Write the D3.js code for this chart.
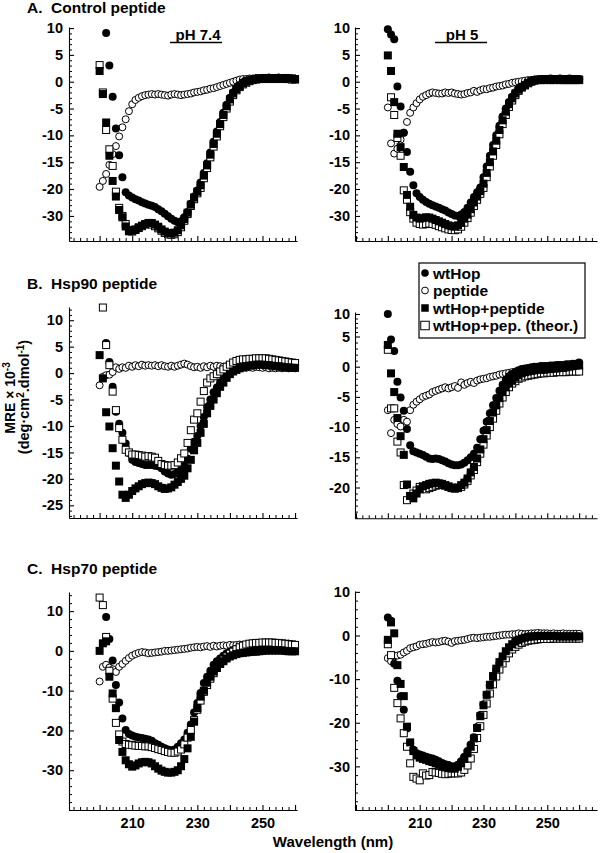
<!DOCTYPE html>
<html><head><meta charset="utf-8">
<script src="https://cdn.jsdelivr.net/npm/d3@7"></script>
<style>
body{margin:0;background:#fff;}
svg text{font-family:"Liberation Sans",Arial,Helvetica,sans-serif;font-weight:bold;fill:#000;white-space:pre;}
</style></head><body>
<svg id="chart" width="602" height="853"></svg>
<script>
// ---------- categories / labels ----------
const wavelengthNm = [200,201,202,203,204,205,206,207,208,209,210,211,212,213,214,215,216,217,218,219,
  220,221,222,223,224,225,226,227,228,229,230,231,232,233,234,235,236,237,238,239,
  240,241,242,243,244,245,246,247,248,249,250,251,252,253,254,255,256,257,258,259,260];
const seriesLabels = ["wtHop","peptide","wtHop+peptide","wtHop+pep. (theor.)"];
const panelTitles = ["A.  Control peptide","B.  Hsp90 peptide","C.  Hsp70 peptide"];
const phLabels = ["pH 7.4","pH 5"];
const xTickLabels = [210,230,250];
const yTicksA = [10,5,0,-5,-10,-15,-20,-30];
const yTicksBLeft = [10,5,0,-5,-10,-15,-20,-25];
const yTicksBRight = [10,5,0,-5,-10,-15,-20];
const yTicksC = [10,0,-10,-20,-30];
const xAxisTitle = "Wavelength (nm)";

// ---------- A. Control peptide, pH 7.4 ----------
const ctrl74_wtHop = [null,null,9.1,3.0,-2.8,-8.7,-13.7,-17.8,-21.2,-22.4,
 -23.2,-23.8,-24.3,-24.9,-25.4,-25.8,-26.2,-26.7,-27.5,-28.3,
 -29.2,-30.1,-31.0,-31.8,-32.3,-32.0,-30.5,-28.5,-25.5,-22.8,
 -20.6,-18.8,-17.0,-15.2,-13.2,-11.2,-9.3,-7.5,-5.8,-4.3,
 -3.0,-2.0,-1.2,-0.6,-0.1,0.2,0.3,0.4,0.5,0.5,
 0.6,0.6,0.6,0.7,0.6,0.6,0.7,0.6,0.5,0.6,0.5];
const ctrl74_peptide = [-19.6,-18.5,-17.2,-15.5,-13.5,-12.0,-10.2,-8.5,-7.0,-5.5,
 -4.2,-3.4,-3.0,-2.7,-2.5,-2.4,-2.3,-2.4,-2.3,-2.4,
 -2.5,-2.6,-2.4,-2.3,-2.4,-2.5,-2.4,-2.3,-2.2,-2.0,
 -1.9,-1.8,-1.6,-1.5,-1.3,-1.2,-1.0,-0.8,-0.6,-0.4,
 -0.2,0.0,0.2,0.4,0.5,0.5,0.6,0.6,0.7,0.7,
 0.7,0.7,0.8,0.7,0.7,0.8,0.7,0.7,0.7,0.6,0.6];
const ctrl74_mix = [2.0,-2.3,-7.6,-13.8,-18.5,-22.8,-27.8,-30.5,-33.9,-35.7,
 -35.5,-35.0,-34.2,-33.6,-33.0,-32.6,-32.6,-33.2,-34.0,-35.0,
 -35.8,-36.3,-36.5,-36.2,-35.3,-33.5,-31.2,-28.8,-25.8,-23.2,
 -21.0,-19.3,-17.5,-15.6,-13.6,-11.6,-9.7,-7.9,-6.2,-4.6,
 -3.3,-2.2,-1.4,-0.8,-0.3,0.0,0.2,0.4,0.5,0.6,
 0.6,0.7,0.6,0.6,0.7,0.6,0.6,0.7,0.6,0.6,0.5];
const ctrl74_theor = [3.1,-2.0,-9.0,-12.6,-15.7,-21.0,-27.0,-30.0,-33.0,-35.2,
 -35.8,-35.2,-34.5,-33.8,-33.2,-33.0,-33.2,-33.8,-34.6,-35.5,
 -36.3,-36.8,-37.0,-36.8,-36.0,-34.2,-31.8,-29.3,-26.3,-23.8,
 -21.6,-19.8,-18.0,-16.1,-14.1,-12.1,-10.2,-8.3,-6.6,-5.0,
 -3.7,-2.5,-1.6,-1.0,-0.5,-0.2,0.1,0.3,0.4,0.5,
 0.5,0.5,0.6,0.5,0.5,0.6,0.5,0.5,0.5,0.4,0.4];

// ---------- A. Control peptide, pH 5 ----------
const ctrl5_wtHop = [9.8,8.8,7.9,-0.9,-4.6,-9.5,-13.1,-16.8,-19.3,-21.6,
 -23.0,-24.0,-24.8,-25.5,-26.0,-26.5,-27.0,-27.5,-28.0,-28.7,
 -29.3,-29.8,-30.0,-29.5,-28.5,-27.0,-25.0,-23.0,-21.2,-19.7,
 -17.8,-15.8,-13.8,-11.8,-10.0,-8.2,-6.5,-5.0,-3.8,-2.8,
 -2.0,-1.4,-0.9,-0.5,-0.2,0.0,0.2,0.4,0.5,0.5,
 0.5,0.6,0.5,0.5,0.6,0.5,0.5,0.6,0.5,0.5,0.5];
const ctrl5_peptide = [-4.8,-11.5,-13.4,-12.5,-10.8,-9.5,-7.5,-5.8,-4.8,-4.0,
 -3.3,-2.8,-2.5,-2.2,-2.0,-2.1,-2.2,-2.2,-2.0,-2.1,
 -2.0,-2.2,-2.3,-2.4,-2.3,-2.1,-2.0,-1.7,-1.9,-1.6,
 -1.4,-1.4,-1.2,-1.1,-0.9,-0.8,-0.7,-0.5,-0.4,-0.2,
 -0.1,0.0,0.1,0.2,0.3,0.3,0.4,0.4,0.4,0.5,
 0.5,0.4,0.5,0.5,0.4,0.5,0.5,0.4,0.4,0.5,0.4];
const ctrl5_mix = [4.9,2.0,-3.8,-9.7,-12.2,-15.9,-22.2,-26.6,-29.6,-30.6,
 -31.0,-30.8,-30.5,-30.6,-31.0,-31.5,-32.0,-32.5,-33.0,-33.5,
 -33.8,-34.0,-33.5,-32.5,-31.0,-29.5,-27.5,-25.0,-22.8,-20.8,
 -19.0,-17.0,-15.0,-13.0,-11.0,-9.0,-7.2,-5.6,-4.2,-3.1,
 -2.2,-1.5,-1.0,-0.6,-0.2,0.1,0.3,0.4,0.4,0.5,
 0.5,0.4,0.5,0.5,0.4,0.5,0.4,0.4,0.5,0.4,0.4];
const ctrl5_theor = [null,-2.9,-6.2,-10.5,-13.8,-20.5,-24.0,-28.6,-31.0,-32.5,
 -33.0,-33.2,-33.0,-32.8,-33.0,-33.3,-33.8,-34.2,-34.6,-35.0,
 -35.2,-35.3,-35.0,-34.0,-32.5,-30.8,-28.8,-26.3,-24.0,-21.8,
 -19.8,-17.8,-15.8,-13.8,-11.8,-9.8,-7.9,-6.2,-4.7,-3.5,
 -2.5,-1.7,-1.1,-0.7,-0.3,0.0,0.2,0.3,0.3,0.3,
 0.4,0.3,0.3,0.4,0.3,0.3,0.3,0.3,0.3,0.3,0.3];

// ---------- B. Hsp90 peptide, pH 7.4 ----------
const hsp90_74_wtHop = [null,null,5.7,2.1,-2.6,-7.3,-9.6,-11.3,-13.3,-15.1,
 -16.4,-16.8,-17.0,-17.2,-17.4,-17.4,-17.4,-17.5,-17.6,-18.0,
 -18.6,-19.0,-19.2,-19.1,-18.7,-18.3,-17.5,-16.2,-14.3,-13.0,
 -11.9,-10.0,-8.3,-6.4,-5.0,-3.6,-2.7,-1.8,-1.1,-0.5,
 0.0,0.4,0.8,1.1,1.3,1.5,1.6,1.7,1.8,1.9,
 1.9,1.9,1.8,1.7,1.6,1.5,1.4,1.3,1.2,1.1,1.0];
const hsp90_74_peptide = [-2.3,-0.7,-0.4,-0.3,0.2,1.1,0.8,1.1,1.0,1.4,
 1.2,1.5,1.3,1.6,1.4,1.5,1.4,1.5,1.3,1.5,
 1.3,1.2,1.4,1.2,1.4,1.6,1.8,1.6,1.3,1.1,
 1.2,1.0,1.3,1.1,1.4,1.2,1.4,1.3,1.2,1.3,
 1.4,1.2,1.3,1.1,1.2,1.0,1.1,1.0,1.2,1.1,
 1.0,1.1,0.9,1.0,0.9,1.0,0.9,1.0,0.9,1.0,0.9];
const hsp90_74_mix = [3.4,-1.0,-7.4,-10.1,-14.2,-17.5,-20.5,-23.0,-23.6,-23.0,
 -22.3,-21.8,-21.4,-21.0,-20.8,-20.7,-20.8,-21.0,-21.4,-21.7,
 -21.9,-21.8,-21.6,-21.1,-20.6,-20.0,-19.4,-18.0,-16.4,-14.6,
 -13.2,-11.3,-9.6,-7.6,-6.2,-5.0,-3.8,-2.6,-1.8,-0.9,
 -0.2,0.3,0.6,0.9,1.1,1.3,1.4,1.5,1.6,1.6,
 1.6,1.5,1.5,1.4,1.3,1.3,1.2,1.1,1.1,1.0,1.0];
const hsp90_74_theor = [null,12.4,5.3,1.5,-3.5,-7.0,-10.4,-12.6,-14.5,-15.0,
 -15.4,-15.4,-15.5,-15.6,-15.8,-15.7,-15.8,-16.0,-16.6,-17.2,
 -17.4,-17.5,-17.5,-17.4,-16.9,-16.1,-15.2,-13.2,-10.8,-8.8,
 -7.6,-5.4,-3.4,-1.8,-1.0,-0.6,-0.2,0.3,0.7,1.2,
 1.6,2.0,2.3,2.5,2.6,2.6,2.7,2.7,2.8,2.8,
 2.8,2.8,2.7,2.6,2.5,2.4,2.3,2.2,2.1,2.0,1.9];

// ---------- B. Hsp90 peptide, pH 5 ----------
const hsp90_5_wtHop = [10.0,4.5,2.6,-2.5,-5.1,-7.3,-10.3,-13.0,-14.0,-14.2,
 -14.4,-14.6,-14.9,-15.2,-15.3,-15.2,-15.3,-15.5,-15.7,-16.0,
 -16.2,-16.3,-16.3,-16.2,-15.9,-15.5,-15.0,-14.4,-13.4,-12.0,
 -10.6,-9.1,-7.7,-6.4,-5.2,-4.0,-3.0,-2.1,-1.6,-1.2,
 -0.9,-0.6,-0.4,-0.3,-0.2,-0.1,0.0,0.0,0.1,0.1,
 0.1,0.2,0.2,0.3,0.3,0.3,0.4,0.4,0.5,0.5,0.7];
const hsp90_5_peptide = [-7.2,-11.0,-8.8,-9.5,-9.9,-8.8,-9.1,-7.2,-6.3,-5.8,
 -5.4,-5.0,-4.8,-4.6,-4.2,-4.0,-3.8,-3.6,-3.4,-3.6,
 -3.4,-3.2,-3.5,-2.6,-3.0,-2.7,-2.5,-2.7,-2.3,-2.1,
 -2.0,-1.9,-1.7,-1.6,-1.5,-1.3,-1.2,-1.1,-1.0,-0.9,
 -0.8,-0.7,-0.7,-0.6,-0.6,-0.5,-0.5,-0.5,-0.5,-0.4,
 -0.4,-0.4,-0.4,-0.3,-0.3,-0.3,-0.3,-0.3,-0.2,-0.2,-0.2];
const hsp90_5_mix = [3.6,-1.1,-4.2,-8.5,-11.5,-14.6,-19.5,-21.4,-21.8,-21.0,
 -20.3,-19.8,-19.6,-19.4,-19.3,-19.2,-19.3,-19.4,-19.6,-19.8,
 -20.0,-20.1,-20.0,-19.6,-19.2,-18.5,-17.5,-16.6,-15.2,-13.7,
 -12.0,-10.5,-9.0,-7.6,-6.4,-5.2,-4.2,-3.4,-2.7,-2.2,
 -1.8,-1.4,-1.1,-0.9,-0.8,-0.7,-0.6,-0.5,-0.5,-0.5,
 -0.4,-0.4,-0.3,-0.3,-0.2,-0.2,-0.1,0.0,0.1,0.2,0.2];
const hsp90_5_theor = [2.8,-6.9,-6.9,-12.4,-14.2,-19.6,-22.1,-21.4,-21.0,-20.5,
 -19.9,-20.0,-20.3,-20.1,-19.9,-19.7,-19.6,-19.6,-19.7,-19.9,
 -20.1,-20.2,-20.1,-19.9,-19.5,-18.9,-18.0,-17.1,-15.8,-14.4,
 -12.9,-11.4,-10.0,-8.6,-7.3,-6.1,-5.1,-4.2,-3.4,-2.8,
 -2.4,-2.0,-1.8,-1.6,-1.5,-1.4,-1.3,-1.2,-1.1,-1.1,
 -1.0,-1.0,-1.0,-0.9,-0.9,-0.9,-0.9,-0.8,-0.8,-0.8,-0.8];

// ---------- C. Hsp70 peptide, pH 7.4 ----------
const hsp70_74_wtHop = [null,null,8.5,3.0,-2.4,-8.6,-13.0,-17.0,-19.9,-20.9,
 -21.3,-21.6,-21.8,-21.9,-22.1,-22.3,-22.6,-23.2,-23.6,-24.1,
 -24.5,-24.8,-25.0,-24.8,-24.1,-23.2,-22.3,-20.6,-18.5,-15.5,
 -13.1,-10.6,-8.1,-6.5,-5.0,-3.5,-2.6,-1.9,-1.2,-0.6,
 -0.2,0.2,0.5,0.8,1.0,1.1,1.2,1.3,1.4,1.5,
 1.5,1.5,1.4,1.3,1.2,1.1,0.9,0.6,0.3,0.1,-0.1];
const hsp70_74_peptide = [-7.7,-4.0,-3.5,-4.2,-4.6,-5.3,-4.0,-3.3,-2.5,-1.8,
 -1.2,-0.8,-0.5,-0.3,-0.4,-0.6,-0.5,-0.4,-0.3,-0.2,
 0.0,0.0,0.1,0.2,0.3,0.4,0.5,0.6,0.8,0.9,
 1.0,0.9,1.1,1.2,1.0,1.3,1.1,1.3,1.4,1.3,
 1.5,1.4,1.5,1.6,1.5,1.6,1.7,1.6,1.8,1.7,
 1.8,1.9,1.8,1.9,1.8,1.9,1.8,1.7,1.8,1.7,1.6];
const hsp70_74_mix = [0.0,1.9,2.4,-6.5,-10.7,-14.4,-22.4,-25.4,-27.5,-28.5,
 -29.1,-28.8,-28.3,-28.0,-27.9,-28.0,-28.3,-29.0,-29.6,-30.1,
 -30.4,-30.6,-30.6,-30.4,-30.0,-29.0,-27.2,-24.5,-21.6,-17.8,
 -14.4,-11.5,-10.0,-8.0,-6.5,-5.2,-4.2,-3.3,-2.6,-1.9,
 -1.4,-1.1,-0.8,-0.6,-0.5,-0.4,-0.3,-0.2,-0.2,-0.1,
 0.0,0.1,0.1,0.1,0.1,0.1,0.1,0.0,-0.1,-0.1,-0.1];
const hsp70_74_theor = [13.4,11.5,3.5,-5.0,-12.0,-18.1,-21.0,-22.8,-23.4,-23.6,
 -23.7,-23.8,-23.9,-23.9,-24.0,-24.0,-24.2,-24.4,-24.7,-24.9,
 -25.2,-25.4,-25.6,-25.6,-25.3,-24.8,-23.5,-21.8,-19.9,-17.4,
 -14.8,-12.5,-10.3,-8.6,-7.0,-5.6,-4.3,-3.1,-2.2,-1.4,
 -0.7,-0.2,0.4,0.9,1.3,1.6,1.8,1.9,2.0,2.0,
 2.1,2.1,2.1,2.1,2.0,2.0,1.9,1.8,1.7,1.6,1.5];

// ---------- C. Hsp70 peptide, pH 5 ----------
const hsp70_5_wtHop = [4.1,3.4,-6.5,-10.4,-13.9,-17.0,-21.3,-24.7,-26.2,-27.0,
 -27.3,-27.5,-27.8,-28.0,-28.2,-28.5,-28.8,-29.2,-29.5,-29.7,
 -30.0,-30.0,-29.6,-28.8,-27.8,-26.5,-25.0,-23.3,-21.0,-18.2,
 -15.8,-13.6,-11.4,-9.4,-7.9,-6.4,-5.2,-4.0,-3.1,-2.4,
 -1.8,-1.3,-0.9,-0.7,-0.5,-0.4,-0.3,-0.3,-0.3,-0.3,
 -0.3,-0.3,-0.4,-0.4,-0.4,-0.5,-0.5,-0.5,-0.6,-0.6,-0.7];
const hsp70_5_peptide = [-5.2,-5.9,-4.8,-4.6,-4.4,-3.9,-3.5,-2.9,-2.7,-2.5,
 -2.1,-2.0,-1.9,-1.7,-1.5,-1.6,-1.5,-1.3,-1.2,-1.4,
 -1.7,-1.3,-1.2,-1.1,-1.0,-0.8,-0.6,-0.5,-0.6,-0.5,
 -0.4,-0.3,-0.3,-0.2,-0.1,0.0,0.1,0.2,0.2,0.3,
 0.3,0.5,0.4,0.3,0.4,0.5,0.5,0.6,0.5,0.5,
 0.5,0.4,0.5,0.4,0.4,0.5,0.4,0.4,0.4,0.4,0.4];
const hsp70_5_mix = [-1.0,3.0,0.5,-6.8,-11.1,-13.9,-20.9,-24.5,-26.5,-27.5,
 -28.0,-28.3,-28.5,-28.8,-29.0,-29.3,-29.6,-29.9,-30.2,-30.4,
 -30.5,-30.5,-30.1,-29.3,-28.3,-27.0,-25.5,-23.6,-21.2,-18.5,
 -16.0,-13.6,-11.3,-9.3,-7.6,-6.1,-4.8,-3.6,-2.7,-2.0,
 -1.4,-1.0,-0.7,-0.5,-0.3,-0.2,-0.2,-0.1,-0.1,-0.1,
 -0.1,-0.1,-0.1,-0.2,-0.2,-0.2,-0.2,-0.2,-0.2,-0.2,-0.2];
const hsp70_5_theor = [-2.0,-4.5,-12.0,-15.5,-19.0,-22.4,-25.5,-29.3,-32.4,-32.8,
 -33.2,-31.6,-32.1,-32.0,-31.3,-31.4,-31.5,-31.7,-31.8,-31.7,
 -31.6,-31.6,-31.6,-31.4,-30.8,-29.8,-28.2,-26.0,-23.5,-20.8,
 -18.2,-15.6,-13.3,-11.2,-9.4,-7.8,-6.4,-5.2,-4.1,-3.2,
 -2.6,-2.1,-1.7,-1.4,-1.2,-1.1,-1.0,-0.9,-0.8,-0.8,
 -0.8,-0.8,-0.7,-0.7,-0.7,-0.7,-0.7,-0.7,-0.7,-0.7,-0.7];

// ---------- drawing ----------
const svg = d3.select("#chart");
const xLeft = d3.scaleLinear().domain([190.6, 260.6]).range([69, 297]);
const xRight = d3.scaleLinear().domain([189.7, 265.6]).range([355, 597]);

const panels = [
  {x:xLeft, y:d3.scaleLinear().domain([10.2,-20,-39.3]).range([27,189,241]), labels:yTicksA,
   minor:d3.range(10,-20.5,-1).concat(d3.range(-22,-39,-2)), pad:6, xlab:false,
   s:[ctrl74_peptide, ctrl74_wtHop, ctrl74_theor, ctrl74_mix]},
  {x:xRight, y:d3.scaleLinear().domain([10.2,-20,-39.3]).range([27,189,241]), labels:yTicksA,
   minor:d3.range(10,-20.5,-1).concat(d3.range(-22,-39,-2)), pad:5, xlab:false,
   s:[ctrl5_peptide, ctrl5_wtHop, ctrl5_theor, ctrl5_mix]},
  {x:xLeft, y:d3.scaleLinear().domain([12.5,-27.4]).range([307,518]), labels:yTicksBLeft,
   minor:d3.range(12,-27.5,-1), pad:6, xlab:false,
   s:[hsp90_74_peptide, hsp90_74_wtHop, hsp90_74_theor, hsp90_74_mix]},
  {x:xRight, y:d3.scaleLinear().domain([10.44,5,-25.1]).range([312,336.5,518.3]), labels:yTicksBRight,
   minor:d3.range(10,-25.5,-1), pad:5, xlab:false,
   s:[hsp90_5_peptide, hsp90_5_wtHop, hsp90_5_theor, hsp90_5_mix]},
  {x:xLeft, y:d3.scaleLinear().domain([14.8,-40]).range([592,810]), labels:yTicksC,
   minor:d3.range(14,-40.5,-2), pad:6, xlab:true,
   s:[hsp70_74_peptide, hsp70_74_wtHop, hsp70_74_theor, hsp70_74_mix]},
  {x:xRight, y:d3.scaleLinear().domain([10.2,-40]).range([591,810]), labels:yTicksC,
   minor:d3.range(10,-40.5,-2), pad:5, xlab:true,
   s:[hsp70_5_peptide, hsp70_5_wtHop, hsp70_5_theor, hsp70_5_mix]}
];
// series drawing styles: peptide, wtHop, theor, mix (drawn in that order)
const styles = ["circleOpen","circleFilled","squareOpen","squareFilled"];
const R = 4.0, S = 8.0;

panels.forEach(p => {
  const g = svg.append("g");
  const xs = p.x, ys = p.y;
  const yr = ys.range(), base = yr[yr.length-1];
  const xd = xs.domain();
  const x0 = Math.ceil(xd[0]/2)*2;
  const xTicksAll = d3.range(x0, xd[1]+0.01, 2);

  const xMinor = g.append("g").attr("transform",`translate(0,${base})`)
    .call(d3.axisBottom(xs).tickValues(xTicksAll.filter(t=>t%10!==0)).tickSize(-3).tickSizeOuter(0).tickFormat(""));
  xMinor.select(".domain").remove();
  const xMajor = g.append("g").attr("transform",`translate(0,${base})`)
    .call(d3.axisBottom(xs).tickValues(xTicksAll.filter(t=>t%10===0)).tickSize(-5).tickSizeOuter(0)
      .tickPadding(7.5).tickFormat(d => (p.xlab && xTickLabels.includes(d)) ? String(d) : ""));
  xMajor.attr("font-family",null).attr("font-size",null);
  xMajor.selectAll("text").style("font-size","14.5px");
  xMajor.selectAll("line,path").attr("stroke","#000").attr("stroke-width",1.1);
  xMinor.selectAll("line").attr("stroke","#000").attr("stroke-width",1);

  const y0 = xs.range()[0];
  const yMinor = g.append("g").attr("transform",`translate(${y0},0)`)
    .call(d3.axisLeft(ys).tickValues(p.minor.filter(t=>!p.labels.includes(t))).tickSize(-3).tickSizeOuter(0).tickFormat(""));
  yMinor.select(".domain").remove();
  yMinor.selectAll("line").attr("stroke","#000").attr("stroke-width",1);
  const yMajor = g.append("g").attr("transform",`translate(${y0},0)`)
    .call(d3.axisLeft(ys).tickValues(p.labels).tickSize(-5).tickSizeOuter(0).tickPadding(p.pad).tickFormat(d=>String(d)));
  yMajor.attr("font-family",null).attr("font-size",null);
  yMajor.selectAll("text").style("font-size","14.5px");
  yMajor.selectAll("line,path").attr("stroke","#000").attr("stroke-width",1.1);

  p.s.forEach((vals, k) => {
    const pts = wavelengthNm.map((w,i)=>({w, v: vals[i]})).filter(d => d.v !== null);
    const st = styles[k];
    const sg = g.append("g");
    if (st.startsWith("circle")) {
      sg.selectAll("circle").data(pts).join("circle")
        .attr("cx", d=>xs(d.w)).attr("cy", d=>ys(d.v))
        .attr("r", st==="circleFilled" ? R : R-0.5)
        .attr("fill", st==="circleFilled" ? "#000" : "#fff")
        .attr("stroke", "#000").attr("stroke-width", st==="circleFilled" ? 0 : 1);
    } else {
      const sz = st==="squareFilled" ? S : S-1;
      sg.selectAll("rect").data(pts).join("rect")
        .attr("x", d=>xs(d.w)-sz/2).attr("y", d=>ys(d.v)-sz/2)
        .attr("width", sz).attr("height", sz)
        .attr("fill", st==="squareFilled" ? "#000" : "#fff")
        .attr("stroke", "#000").attr("stroke-width", st==="squareFilled" ? 0 : 1);
    }
  });
});

// panel titles
[13, 289, 574].forEach((yy,i) => {
  svg.append("text").attr("x",27).attr("y",yy).style("font-size","15.5px").text(panelTitles[i]);
});

// pH labels with underline
[[170,222],[435,487]].forEach((seg,i)=>{
  svg.append("text").attr("x",(seg[0]+seg[1])/2 + (i===0?2:1)).attr("y",39.5)
    .attr("text-anchor","middle").style("font-size","15px").text(phLabels[i]);
  svg.append("line").attr("x1",seg[0]).attr("x2",seg[1]).attr("y1",42.5).attr("y2",42.5)
    .attr("stroke","#000").attr("stroke-width",1.3);
});

// y axis title (rotated)
const t1 = svg.append("text").attr("transform","translate(15,398) rotate(-90)")
  .attr("text-anchor","middle").style("font-size","14px");
t1.append("tspan").text("MRE \u00d7 10");
t1.append("tspan").attr("dy",-5).style("font-size","10px").text("-3");
const t2 = svg.append("text").attr("transform","translate(28.5,397) rotate(-90)")
  .attr("text-anchor","middle").style("font-size","14.5px");
t2.append("tspan").text("(deg\u00b7cm");
t2.append("tspan").attr("dy",-5).style("font-size","10px").text("2");
t2.append("tspan").attr("dy",5).text(".dmol");
t2.append("tspan").attr("dy",-5).style("font-size","10px").text("-1");
t2.append("tspan").attr("dy",5).text(")");

// x axis title
svg.append("text").attr("x",333).attr("y",847).attr("text-anchor","middle")
  .style("font-size","15px").text(xAxisTitle);

// legend
const lg = svg.append("g");
lg.append("rect").attr("x",419).attr("y",263).attr("width",166).attr("height",75)
  .attr("fill","#fff").attr("stroke","#000").attr("stroke-width",1.2);
const legendStyles = ["circleFilled","circleOpen","squareFilled","squareOpen"];
const rowY = [273, 290.5, 308, 325.5];
seriesLabels.forEach((lab,i)=>{
  const st = legendStyles[i], cy = rowY[i];
  if (st.startsWith("circle")) {
    lg.append("circle").attr("cx",425).attr("cy",cy).attr("r", st==="circleFilled"?3.8:3.4)
      .attr("fill", st==="circleFilled"?"#000":"#fff").attr("stroke","#000")
      .attr("stroke-width", st==="circleFilled"?0:1);
  } else {
    const sz = st==="squareFilled" ? 7.5 : 8.5;
    lg.append("rect").attr("x",425-sz/2).attr("y",cy-sz/2).attr("width",sz).attr("height",sz)
      .attr("fill", st==="squareFilled"?"#000":"#fff").attr("stroke","#000")
      .attr("stroke-width", st==="squareFilled"?0:1);
  }
  lg.append("text").attr("x",433).attr("y",cy+5.5).style("font-size","15.5px").text(lab);
});
</script>
</body></html>
